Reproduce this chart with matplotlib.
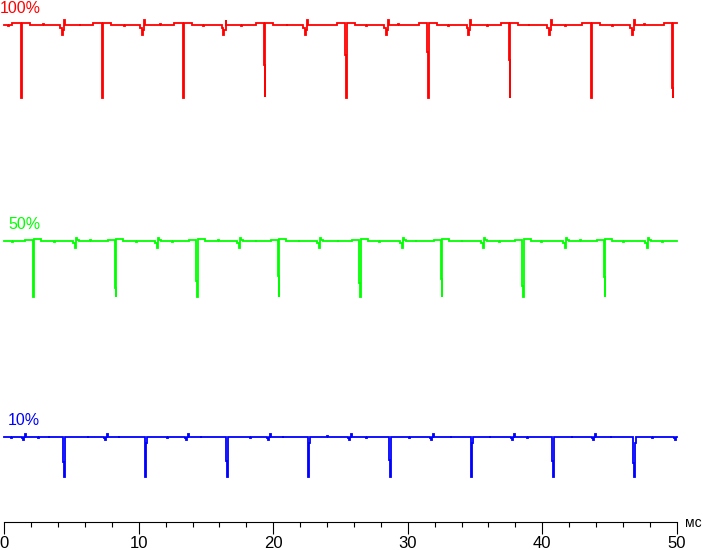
import matplotlib
matplotlib.use('Agg')
import matplotlib.pyplot as plt

# ---------------- data (time in ms, levels in display units) ----------------
T_END = 50.0
x_ticks = [0, 10, 20, 30, 40, 50]
x_tick_labels = ['0', '10', '20', '30', '40', '50']
x_unit = 'мс'

series_labels = ['100%', '50%', '10%']
series_colors = ['#ff0000', '#00ff00', '#0000ff']

# 100 %
red_base = 497.0
red_dips = [1.22, 7.24, 13.27, 19.31, 25.37, 31.45, 37.53, 43.60, 49.65]
red_dip_mid = [-46, -19, -30, -40, -30, -27, -35, -40, -63]
red_dip_bottom = [-72.5, -72.5, -72.5, -72.0, -72.5, -72.5, -72.5, -72.5, -72.5]
red_glitches = [4.14, 10.09, 16.17, 22.21, 28.27, 34.38, 40.35, 46.53]
red_noise_t = [0.3, 2.9, 5.6, 8.9, 11.6, 14.8, 17.6, 21.0, 26.9, 29.3, 33.0, 35.9, 39.0, 41.7, 45.2, 47.6]
red_noise_v = [-1.0, 1.0, -1.0, -1.0, 1.0, -1.0, -1.0, 1.0, -1.0, 1.0, -1.0, -1.0, 1.0, -1.0, -1.0, 1.0]

# 50 %
green_base = 281.3
green_dips = [2.11, 8.23, 14.29, 20.35, 26.41, 32.47, 38.53, 44.59]
green_dip_mid = [-32, -47, -40, -35, -42, -38, -45, -36]
green_dip_bottom = [-56.5, -56.5, -56.0, -56.5, -56.5, -56.5, -56.5, -56.5]
green_glitches = [5.11, 11.21, 17.30, 23.25, 29.42, 35.45, 41.55, 47.64]
green_noise_t = [0.6, 3.7, 6.4, 9.8, 12.5, 15.9, 18.7, 21.9, 24.8, 27.9, 30.6, 34.0, 36.8, 39.9, 42.8, 46.0, 48.9]
green_noise_v = [-1.0, -1.0, 1.0, -1.0, -1.0, 1.0, -1.0, -1.0, 1.0, -1.0, -1.0, 1.0, -1.0, -1.0, 1.0, -1.0, -1.0]

# 10 %
blue_base = 85.5
blue_dips = [4.365, 10.43, 16.49, 22.55, 28.61, 34.67, 40.73, 46.77]
blue_dip_mid = [-25, -22, -24, -25, -23, -25, -24, -26]
blue_dip_bottom = [-40.5, -40.5, -40.5, -40.0, -40.5, -40.5, -40.5, -40.5]
blue_glitches = [1.32, 7.38, 13.44, 19.50, 25.56, 31.62, 37.68, 43.70, 49.82]
blue_noise_t = [0.5, 2.5, 3.3, 6.2, 8.5, 12.1, 14.6, 18.3, 20.7, 24.0, 26.9, 30.1, 33.2, 36.1, 38.9, 42.2, 45.1, 48.2]
blue_noise_v = [-1.0, -1.0, -1.0, 1.0, -1.0, -1.0, 1.0, -1.0, -1.0, 1.0, -1.0, -1.0, 1.0, -1.0, -1.0, 1.0, -1.0, -1.0]

# shapes of the recurring features (duration ms, relative level)
red_dip_shape = dict(pre=(0.62, 1.7), mid_dur=0.04, bottom_dur=0.06, post=[(0.60, 1.7)])
green_dip_shape = dict(pre=(0.55, 1.0), mid_dur=0.05, bottom_dur=0.06, post=[(0.50, 1.3)])
blue_dip_shape = dict(pre=None, mid_dur=0.05, bottom_dur=0.07, post=[(0.06, -6.0)])
red_glitch_shape = [(0.12, -3.0), (0.08, -10.0), (0.08, -5.0), (0.07, 5.0)]
green_glitch_shape = [(0.15, -2.6), (0.10, -7.6), (0.07, 3.0), (0.12, 0.7)]
blue_glitch_shape = [(0.08, -1.5), (0.08, -3.5), (0.08, -0.5), (0.06, 2.5)]


def dip_points(t0, mid, bottom, shape):
    pts = []
    if shape['pre']:
        d, lv = shape['pre']
        pts.append((t0 - d, lv))
    pts.append((t0, mid))
    t = t0 + shape['mid_dur']
    pts.append((t, bottom))
    t += shape['bottom_dur']
    for d, lv in shape['post']:
        pts.append((t, lv))
        t += d
    pts.append((t, 0.0))
    return pts


def glitch_points(t0, shape):
    pts = []
    t = t0
    for d, lv in shape:
        pts.append((t, lv))
        t += d
    pts.append((t, 0.0))
    return pts


def build(base, dips, mids, bottoms, dshape, glitches, gshape, nt, nv):
    pts = [(0.0, 0.0)]
    for t0, m, b in zip(dips, mids, bottoms):
        pts += dip_points(t0, m, b, dshape)
    for g in glitches:
        pts += glitch_points(g, gshape)
    for t, v in zip(nt, nv):
        pts += [(t, v), (t + 0.05, 0.0)]
    pts.sort(key=lambda p: p[0])
    xs, ys = [], []
    last = 0.0
    for t, v in pts:
        if t > T_END:
            break
        xs.append(t)
        ys.append(base + v)
        last = v
    xs.append(T_END)
    ys.append(base + last)
    return xs, ys


traces = [
    build(red_base, red_dips, red_dip_mid, red_dip_bottom, red_dip_shape,
          red_glitches, red_glitch_shape, red_noise_t, red_noise_v),
    build(green_base, green_dips, green_dip_mid, green_dip_bottom, green_dip_shape,
          green_glitches, green_glitch_shape, green_noise_t, green_noise_v),
    build(blue_base, blue_dips, blue_dip_mid, blue_dip_bottom, blue_dip_shape,
          blue_glitches, blue_glitch_shape, blue_noise_t, blue_noise_v),
]

# ---------------- figure ----------------
W, H = 703, 550
fig = plt.figure(figsize=(W / 100, H / 100), dpi=100)
ax = fig.add_axes([4.3 / W, 28 / H, 672.4 / W, 522 / H])
ax.set_xlim(0, T_END)
ax.set_ylim(0, 522)

for (xs, ys), c in zip(traces, series_colors):
    ax.plot(xs, ys, color=c, lw=1.3, drawstyle='steps-post', clip_on=False,
            solid_joinstyle='miter')

for s in ['top', 'right', 'left']:
    ax.spines[s].set_visible(False)
ax.spines['bottom'].set_linewidth(0.8)
ax.set_yticks([])
ax.set_xticks(x_ticks)
ax.set_xticks(list(range(0, 51, 2)), minor=True)
ax.set_xticklabels(x_tick_labels)
ax.tick_params(axis='x', which='major', direction='out', length=8.6, width=0.8, pad=1.5,
               labelsize=12)
ax.tick_params(axis='x', which='minor', direction='out', length=3.6, width=0.8)
for lab in ax.get_xticklabels():
    lab.set_family(['Liberation Sans Narrow', 'Liberation Sans', 'DejaVu Sans'])
ax.patch.set_visible(False)

fig.text(685 / W, (H - 527) / H, x_unit, fontsize=10, ha='left', va='baseline',
         family=['Liberation Sans', 'DejaVu Sans'])

label_pos = [(0.0, 12.7), (8.3, 229.0), (7.3, 425.0)]
for lab, c, (px, py) in zip(series_labels, series_colors, label_pos):
    fig.text(px / W, (H - py) / H, lab, color=c, fontsize=11.5, ha='left', va='baseline',
             family=['Liberation Sans', 'DejaVu Sans'])

fig.savefig('out.png', dpi=100)
